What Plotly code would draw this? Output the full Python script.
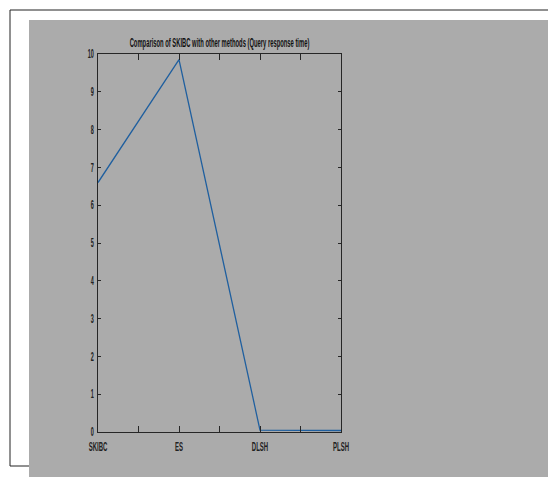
import plotly.graph_objects as go

# Query response time per method
methods = ["SKIBC", "ES", "DLSH", "PLSH"]
response_time = [6.6, 9.85, 0.05, 0.04]

x_pos = [1, 2, 3, 4]
x_tick_vals = [1, 1.5, 2, 2.5, 3, 3.5, 4]
x_tick_text = ["SKIBC", "", "ES", "", "DLSH", "", "PLSH"]
y_tick_vals = list(range(0, 11))

W, H = 548, 477
L, R, T, B = 98, 341, 54, 432  # plot-area pixel box


def px(x):
    return (x - L) / (R - L)


def py(y):
    return (B - y) / (B - T)


GRAY = "#ABABAB"
FONT = "Liberation Sans, Arial, sans-serif"

fig = go.Figure()
fig.add_trace(go.Scatter(
    x=x_pos, y=response_time, mode="lines",
    line=dict(color="#1F5F9F", width=1.3),
    hoverinfo="skip", showlegend=False,
))

# white page frame and grey figure panel
fig.add_shape(type="rect", xref="paper", yref="paper",
              x0=px(10), x1=px(560), y0=py(466), y1=py(10),
              line=dict(color="#222222", width=1), fillcolor="white", layer="below")
fig.add_shape(type="rect", xref="paper", yref="paper",
              x0=px(29), x1=px(560), y0=py(490), y1=py(20),
              line=dict(width=0), fillcolor=GRAY, layer="below")

axis_common = dict(
    showline=True, linecolor="#262626", linewidth=1, mirror="ticks",
    ticks="inside", tickcolor="#262626", showgrid=False, zeroline=False,
    tickfont=dict(family=FONT, size=12, color="#222222", weight=600),
)

fig.update_xaxes(range=[1, 4], tickmode="array", tickvals=x_tick_vals,
                 ticktext=x_tick_text, ticklen=6, ticklabelstandoff=4,
                 **axis_common)
fig.update_yaxes(range=[0, 10], tickmode="array", tickvals=y_tick_vals,
                 ticklen=3, ticklabelstandoff=1, **axis_common)

fig.update_layout(
    width=W, height=H,
    margin=dict(l=L, r=W - R, t=T, b=H - B),
    paper_bgcolor="white", plot_bgcolor=GRAY,
    title=dict(text="<b>Comparison of SKIBC with other methods (Query response time)</b>",
               x=(L + R) / 2 / W, xref="container", xanchor="center",
               y=1 - 43 / H, yref="container", yanchor="middle",
               font=dict(family=FONT, size=12, color="#111111")),
)

# Narrow (condensed) lettering for title and tick labels
squeeze_js = """
(function(){
  function squeeze(sel, s, anchor, target){
    document.querySelectorAll(sel).forEach(function(t){
      if (t.getAttribute('data-sq')) return;
      var b = t.getBBox();
      if (!b.width) return;
      var k = target ? target / b.width : s;
      var ox = anchor === 'end' ? b.x + b.width : b.x + b.width / 2;
      var tr = t.getAttribute('transform') || '';
      t.setAttribute('transform', tr + ' translate(' + ox + ',0) scale(' + k + ',1) translate(' + (-ox) + ',0)');
      t.setAttribute('data-sq', '1');
    });
  }
  function run(){
    squeeze('.gtitle', 1, 'middle', 180);
    squeeze('.xtick text', 0.5, 'middle');
    squeeze('.ytick text', 0.46, 'end');
  }
  run();
  setTimeout(run, 30);
})();
"""

fig.write_html("out.html", post_script=squeeze_js)
